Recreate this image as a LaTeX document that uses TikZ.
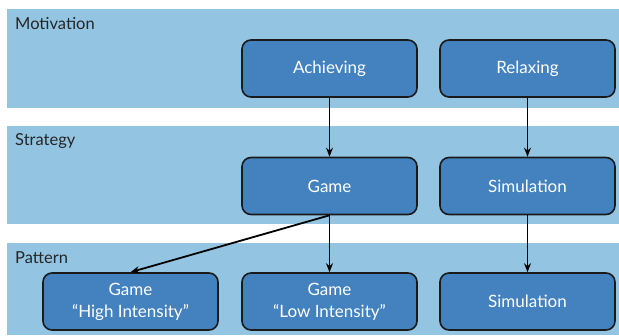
\documentclass[tikz,border=0pt]{standalone}
\usepackage{fontspec}
\setmainfont{Lato}
\usetikzlibrary{arrows.meta}
\definecolor{bandblue}{HTML}{93C5E3}
\definecolor{boxblue}{HTML}{4382BE}
\definecolor{edgedark}{HTML}{1A1A1A}
\begin{document}
\begin{tikzpicture}[x=1pt,y=-1pt,
  band/.style={fill=bandblue,draw=none},
  bandlabel/.style={anchor=west,font=\fontsize{16.5}{19}\selectfont,text=black!85,inner sep=0},
  box/.style={draw=edgedark,line width=1.6pt,fill=boxblue,rounded corners=9pt,
    minimum width=175pt,minimum height=57pt,text=white,align=center,
    font=\fontsize{17}{22}\selectfont,inner sep=0},
  conn/.style={-{Stealth[length=9pt,width=7pt]},line width=1.8pt,draw=black}]
\useasboundingbox (0,0) rectangle (619,335);
\fill[white] (0,0) rectangle (619,335);
\path[band] (7,9) rectangle (619,108);
\path[band] (7,126) rectangle (619,224);
\path[band] (7,243) rectangle (619,335);
\node[bandlabel] (lm) at (15,24) {Motivation};
\node[bandlabel] (ls) at (15,141) {Strategy};
\node[bandlabel] (lp) at (15,258) {Pattern};
\node[box] (ach) at (329.5,68.5) {Achieving};
\node[box] (rel) at (527.5,68.5) {Relaxing};
\node[box] (game) at (329.5,186) {Game};
\node[box] (sim) at (527.5,186) {Simulation};
\node[box] (high) at (130.5,301.5) {Game\\``High Intensity''};
\node[box] (low) at (329.5,301.5) {Game\\``Low Intensity''};
\node[box] (psim) at (527.5,301.5) {Simulation};
\draw[conn] (ach) -- (game);
\draw[conn] (rel) -- (sim);
\draw[conn] (game.south) -- (high.north);
\draw[conn] (game) -- (low);
\draw[conn] (sim) -- (psim);
\end{tikzpicture}
\end{document}
